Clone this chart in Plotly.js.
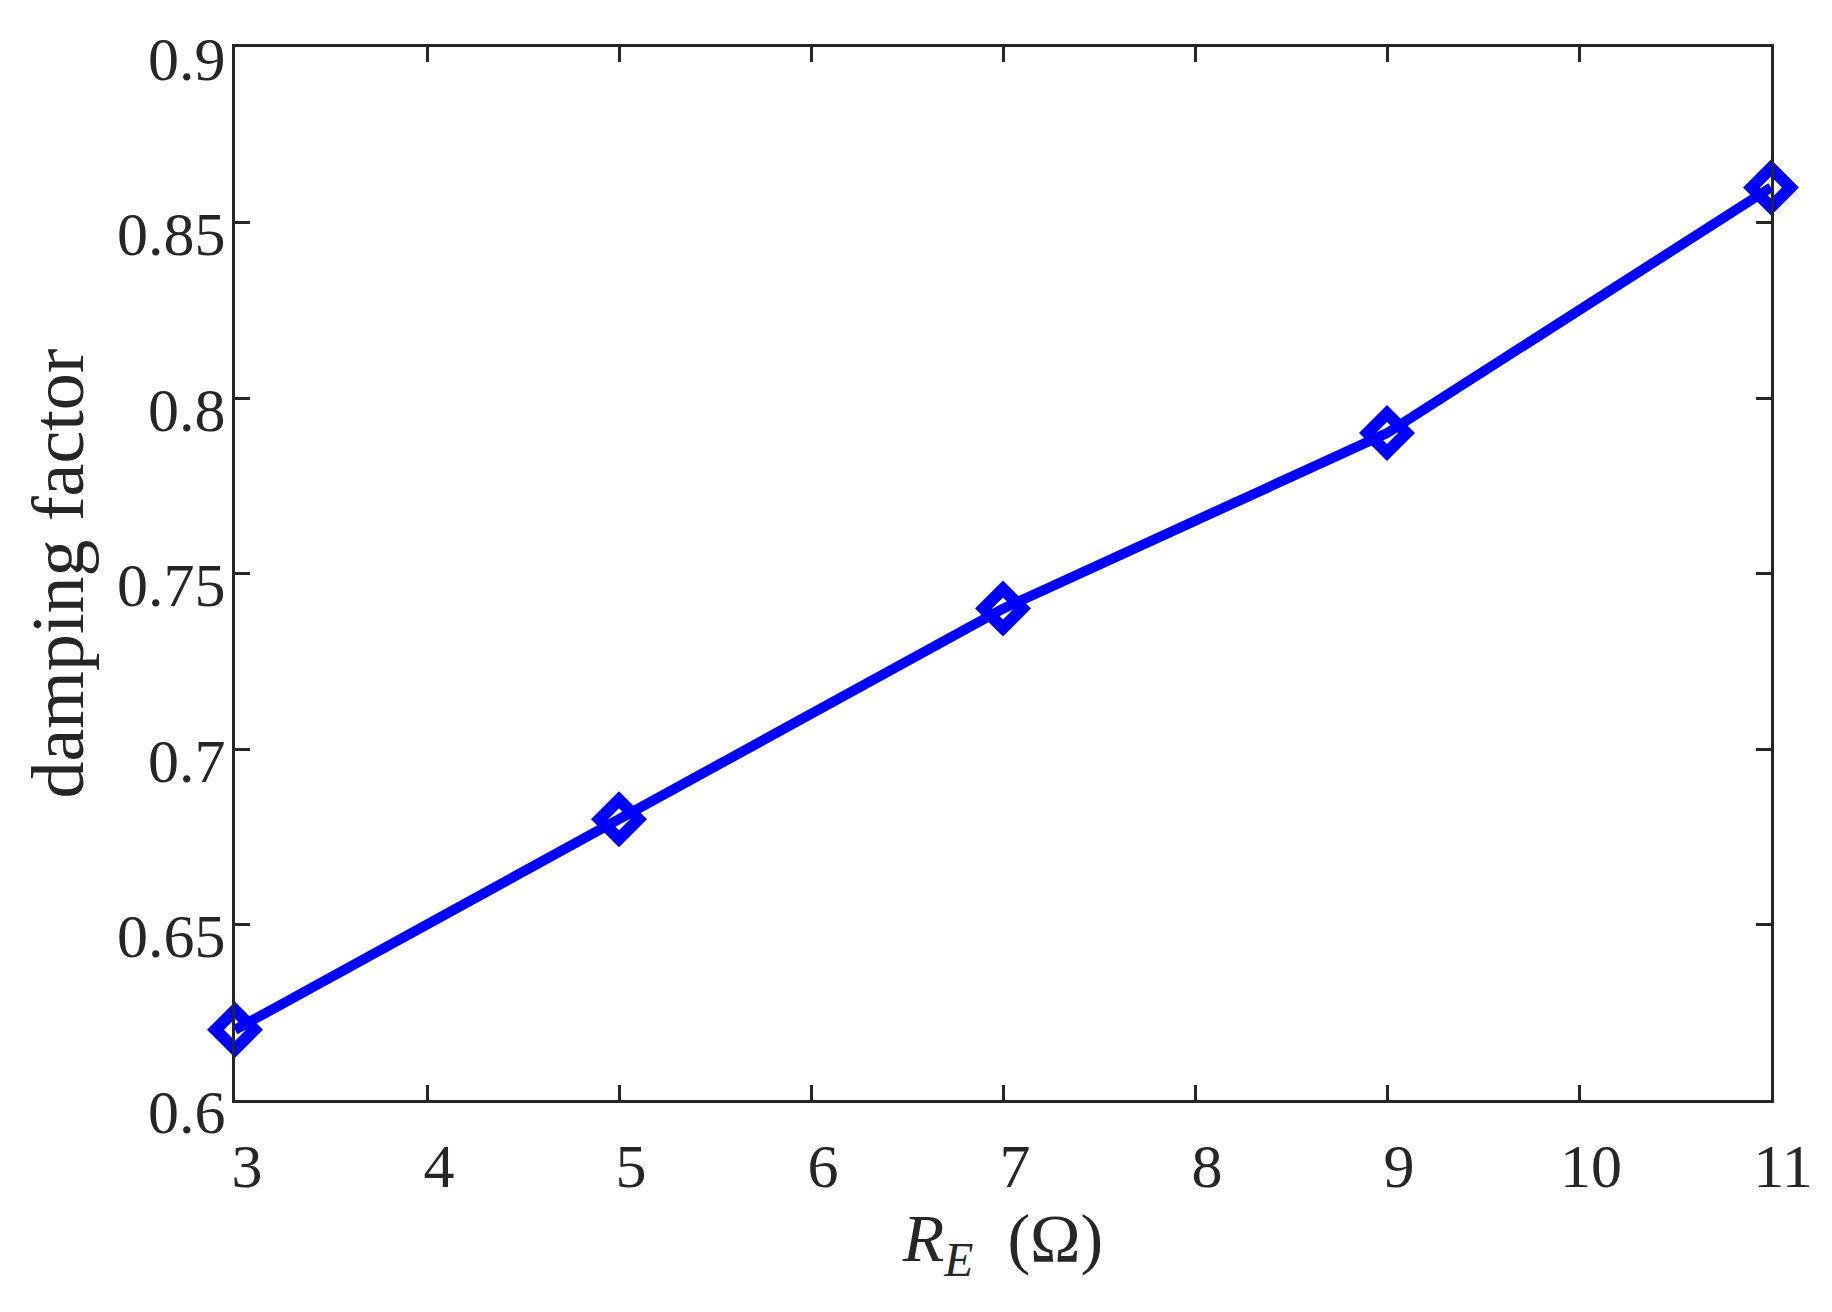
<!DOCTYPE html>
<html>
<head>
<meta charset="utf-8">
<script src="https://cdn.plot.ly/plotly-3.0.1.min.js"></script>
<style>html,body{margin:0;padding:0;background:#fff;}</style>
</head>
<body>
<div id="chart" style="width:1832px;height:1312px;"></div>
<script>
const resistance = [3, 5, 7, 9, 11];
const dampingFactor = [0.62, 0.68, 0.74, 0.79, 0.86];
const xTickVals = [3, 4, 5, 6, 7, 8, 9, 10, 11];
const xTickText = ['3', '4', '5', '6', '7', '8', '9', '10', '11'];
const yTickVals = [0.6, 0.65, 0.7, 0.75, 0.8, 0.85, 0.9];
const yTickText = ['0.6', '0.65', '0.7', '0.75', '0.8', '0.85', '0.9'];

const FONT = 'Liberation Serif, Times New Roman, serif';
const INK = '#262626';

const trace = {
  x: resistance,
  y: dampingFactor,
  type: 'scatter',
  mode: 'lines+markers',
  line: {color: '#0000ff', width: 10},
  marker: {symbol: 'diamond-open', size: 30, color: '#0000ff', line: {color: '#0000ff', width: 12}},
  cliponaxis: false,
  showlegend: false,
  hoverinfo: 'x+y'
};

const axisCommon = {
  showline: true, mirror: 'ticks', linewidth: 3, linecolor: INK,
  ticks: 'inside', ticklen: 15, tickwidth: 3, tickcolor: INK,
  showgrid: false, zeroline: false,
  tickfont: {family: FONT, size: 62, color: INK},
  tickmode: 'array', automargin: false
};

const layout = {
  width: 1832, height: 1312,
  margin: {l: 235, r: 61, t: 47, b: 212},
  paper_bgcolor: '#ffffff', plot_bgcolor: '#ffffff',
  font: {family: FONT, color: INK},
  xaxis: Object.assign({}, axisCommon, {
    range: [3, 11], tickvals: xTickVals, ticktext: xTickText,
    ticklabelstandoff: 10, ticklabelshift: 12,
    title: {text: '<i>R</i><sub><i>E</i></sub>  (Ω)', font: {family: FONT, size: 68, color: INK}, standoff: 4}
  }),
  yaxis: Object.assign({}, axisCommon, {
    range: [0.6, 0.9], tickvals: yTickVals, ticktext: yTickText,
    ticklabelstandoff: -6, ticklabelshift: 11,
    title: {text: 'damping factor', font: {family: FONT, size: 74, color: INK}, standoff: 10}
  })
};

Plotly.newPlot('chart', [trace], layout, {displayModeBar: false, staticPlot: true});
</script>
</body>
</html>
